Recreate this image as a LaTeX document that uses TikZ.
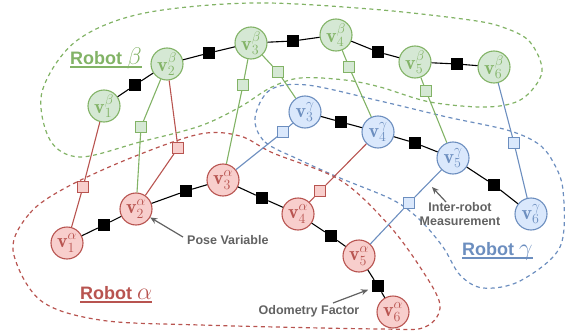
\documentclass[tikz,border=0pt]{standalone}
\usepackage{fix-cm}
\usepackage{fontspec}
\newfontfamily\lab{Liberation Sans}
\usetikzlibrary{arrows.meta}
\definecolor{gS}{HTML}{82B366}\definecolor{gF}{HTML}{D5E8D4}
\definecolor{rS}{HTML}{B85450}\definecolor{rF}{HTML}{F8CECC}
\definecolor{bS}{HTML}{6C8EBF}\definecolor{bF}{HTML}{DAE8FC}
\definecolor{txt}{HTML}{626262}
\newcommand{\bigsym}[1]{{\fontsize{24}{24}\selectfont$#1$}}
\tikzset{
  pose/.style={circle, draw, line width=1.1pt, minimum size=32pt, inner sep=-5pt, font=\fontsize{20}{20}\selectfont},
  gpose/.style={pose, draw=gS, fill=gF, text=gS},
  rpose/.style={pose, draw=rS, fill=rF, text=rS},
  bpose/.style={pose, draw=bS, fill=bF, text=bS},
  fac/.style={rectangle, fill=black, minimum size=12pt, inner sep=0pt},
  meas/.style={rectangle, draw, line width=1pt, minimum size=11pt, inner sep=0pt},
  gmeas/.style={meas, draw=gS, fill=gF},
  rmeas/.style={meas, draw=rS, fill=rF},
  bmeas/.style={meas, draw=bS, fill=bF},
  odo/.style={line width=1.1pt, black},
  gline/.style={line width=1.1pt, gS},
  rline/.style={line width=1.1pt, rS},
  bline/.style={line width=1.1pt, bS},
  blob/.style={line width=1.2pt, dash pattern=on 4pt off 3.5pt},
  note/.style={font=\lab\bfseries\fontsize{12.5}{14.5}\selectfont, text=txt, inner sep=0pt, align=center},
  robot/.style={font=\lab\bfseries\fontsize{18}{20}\selectfont, inner sep=0pt, anchor=base west},
  pointer/.style={line width=1.2pt, txt, -{Stealth[length=7pt,width=6pt]}},
}
\begin{document}
\begin{tikzpicture}[x=1pt,y=-1pt]
\useasboundingbox (0,0) rectangle (565,332);
% groups
\draw[blob, gS] plot[smooth cycle, tension=0.55] coordinates {(80,157) (140,142) (200,126) (240,107) (270,88) (300,78) (345,80) (380,87) (430,102) (487,107) (522,99) (542,72) (530,42) (505,28) (470,20) (370,9) (250,3) (140,14) (75,42) (42,92) (50,140)};
\draw[blob, bS] plot[smooth cycle, tension=0.55] coordinates {(255,118) (265,142) (300,160) (340,178) (393,200) (420,220) (443,247) (460,275) (483,288) (520,281) (560,247) (563,190) (552,160) (537,143) (507,130) (447,117) (380,101) (307,85) (270,90)};
\draw[blob, rS] plot[smooth cycle, tension=0.55] coordinates {(13,250) (30,213) (67,187) (133,157) (200,134) (240,136) (273,153) (340,180) (387,223) (420,267) (440,305) (425,327) (380,329) (200,325) (100,320) (40,300)};
% pose variables
\node[gpose] (b1) at (104,106) {$\mathbf{v}^{\beta}_{1}$};
\node[gpose] (b2) at (167,64) {$\mathbf{v}^{\beta}_{2}$};
\node[gpose] (b3) at (251,43) {$\mathbf{v}^{\beta}_{3}$};
\node[gpose] (b4) at (336,35) {$\mathbf{v}^{\beta}_{4}$};
\node[gpose] (b5) at (415,62) {$\mathbf{v}^{\beta}_{5}$};
\node[gpose] (b6) at (494,67) {$\mathbf{v}^{\beta}_{6}$};
\node[bpose] (c3) at (305,112) {$\mathbf{v}^{\gamma}_{3}$};
\node[bpose] (c4) at (378,132) {$\mathbf{v}^{\gamma}_{4}$};
\node[bpose] (c5) at (453,158) {$\mathbf{v}^{\gamma}_{5}$};
\node[bpose] (c6) at (531,214) {$\mathbf{v}^{\gamma}_{6}$};
\node[rpose] (a1) at (67,243) {$\mathbf{v}^{\alpha}_{1}$};
\node[rpose] (a2) at (136,209) {$\mathbf{v}^{\alpha}_{2}$};
\node[rpose] (a3) at (223,180) {$\mathbf{v}^{\alpha}_{3}$};
\node[rpose] (a4) at (298,214) {$\mathbf{v}^{\alpha}_{4}$};
\node[rpose] (a5) at (359,256) {$\mathbf{v}^{\alpha}_{5}$};
\node[rpose] (a6) at (393,312) {$\mathbf{v}^{\alpha}_{6}$};
% odometry factors
\node[fac] (fb12) at (135,85) {};
\node[fac] (fb23) at (209,53) {};
\node[fac] (fb34) at (293,41) {};
\node[fac] (fb45) at (378,52) {};
\node[fac] (fb56) at (457,64) {};
\node[fac] (fc34) at (341,122) {};
\node[fac] (fc45) at (415,143) {};
\node[fac] (fc56) at (494,185) {};
\node[fac] (fa12) at (104,225) {};
\node[fac] (fa23) at (186,191) {};
\node[fac] (fa34) at (262,198) {};
\node[fac] (fa45) at (331,236) {};
\node[fac] (fa56) at (378,286) {};
\draw[odo] (b1) -- (fb12) -- (b2) -- (fb23) -- (b3) -- (fb34) -- (b4) -- (fb45) -- (b5) -- (fb56) -- (b6);
\draw[odo] (c3) -- (fc34) -- (c4) -- (fc45) -- (c5) -- (fc56) -- (c6);
\draw[odo] (a1) -- (fa12) -- (a2) -- (fa23) -- (a3) -- (fa34) -- (a4) -- (fa45) -- (a5) -- (fa56) -- (a6);
% inter-robot measurements
\node[rmeas] (m1) at (83,187) {};
\node[gmeas] (m2) at (141,127) {};
\node[rmeas] (m3) at (178,148) {};
\node[gmeas] (m4) at (243,85) {};
\node[gmeas] (m5) at (278,72) {};
\node[gmeas] (m6) at (349,67) {};
\node[gmeas] (m7) at (426,91) {};
\node[bmeas] (m8) at (514,143) {};
\node[bmeas] (m9) at (283,132) {};
\node[rmeas] (m10) at (320,191) {};
\node[bmeas] (m11) at (409,203) {};
\draw[rline] (b1) -- (m1) -- (a1);
\draw[gline] (b2) -- (m2) -- (a2);
\draw[rline] (b2) -- (m3) -- (a2);
\draw[gline] (b3) -- (m4) -- (a3);
\draw[gline] (b3) -- (m5) -- (c3);
\draw[gline] (b4) -- (m6) -- (c4);
\draw[gline] (b5) -- (m7) -- (c5);
\draw[bline] (b6) -- (m8) -- (c6);
\draw[bline] (c3) -- (m9) -- (a3);
\draw[rline] (c4) -- (m10) -- (a4);
\draw[bline] (c5) -- (m11) -- (a5);
% robot labels
\node[robot, text=gS] (lb) at (70,64) {Robot \bigsym{\beta}};
\draw[gS, line width=2pt] ([yshift=-2.5pt]lb.base west) -- ([yshift=-2.5pt]lb.base east);
\node[robot, text=rS] (la) at (80,299) {Robot \bigsym{\alpha}};
\draw[rS, line width=2pt] ([yshift=-3pt]la.base west) -- ([yshift=-3pt]la.base east);
\node[robot, text=bS] (lc) at (462,255) {Robot \bigsym{\gamma}};
\draw[bS, line width=2pt] ([yshift=-3pt]lc.base west) -- ([yshift=-3pt]lc.base east);
% annotations
\node[note, anchor=west] (pv) at (187,240) {Pose Variable};
\coordinate (pvt) at (183,237);
\draw[pointer] (pvt) -- (a2);
\node[note] (of) at (309,311) {Odometry Factor};
\coordinate (oft) at (333,303);
\draw[pointer, shorten >=4pt] (oft) -- (fa56);
\node[note] (im) at (460,214) {Inter-robot\\Measurement};
\coordinate (imt) at (446,202);
\coordinate (imh) at (432,187);
\draw[pointer] (imt) -- (imh);
\end{tikzpicture}
\end{document}
